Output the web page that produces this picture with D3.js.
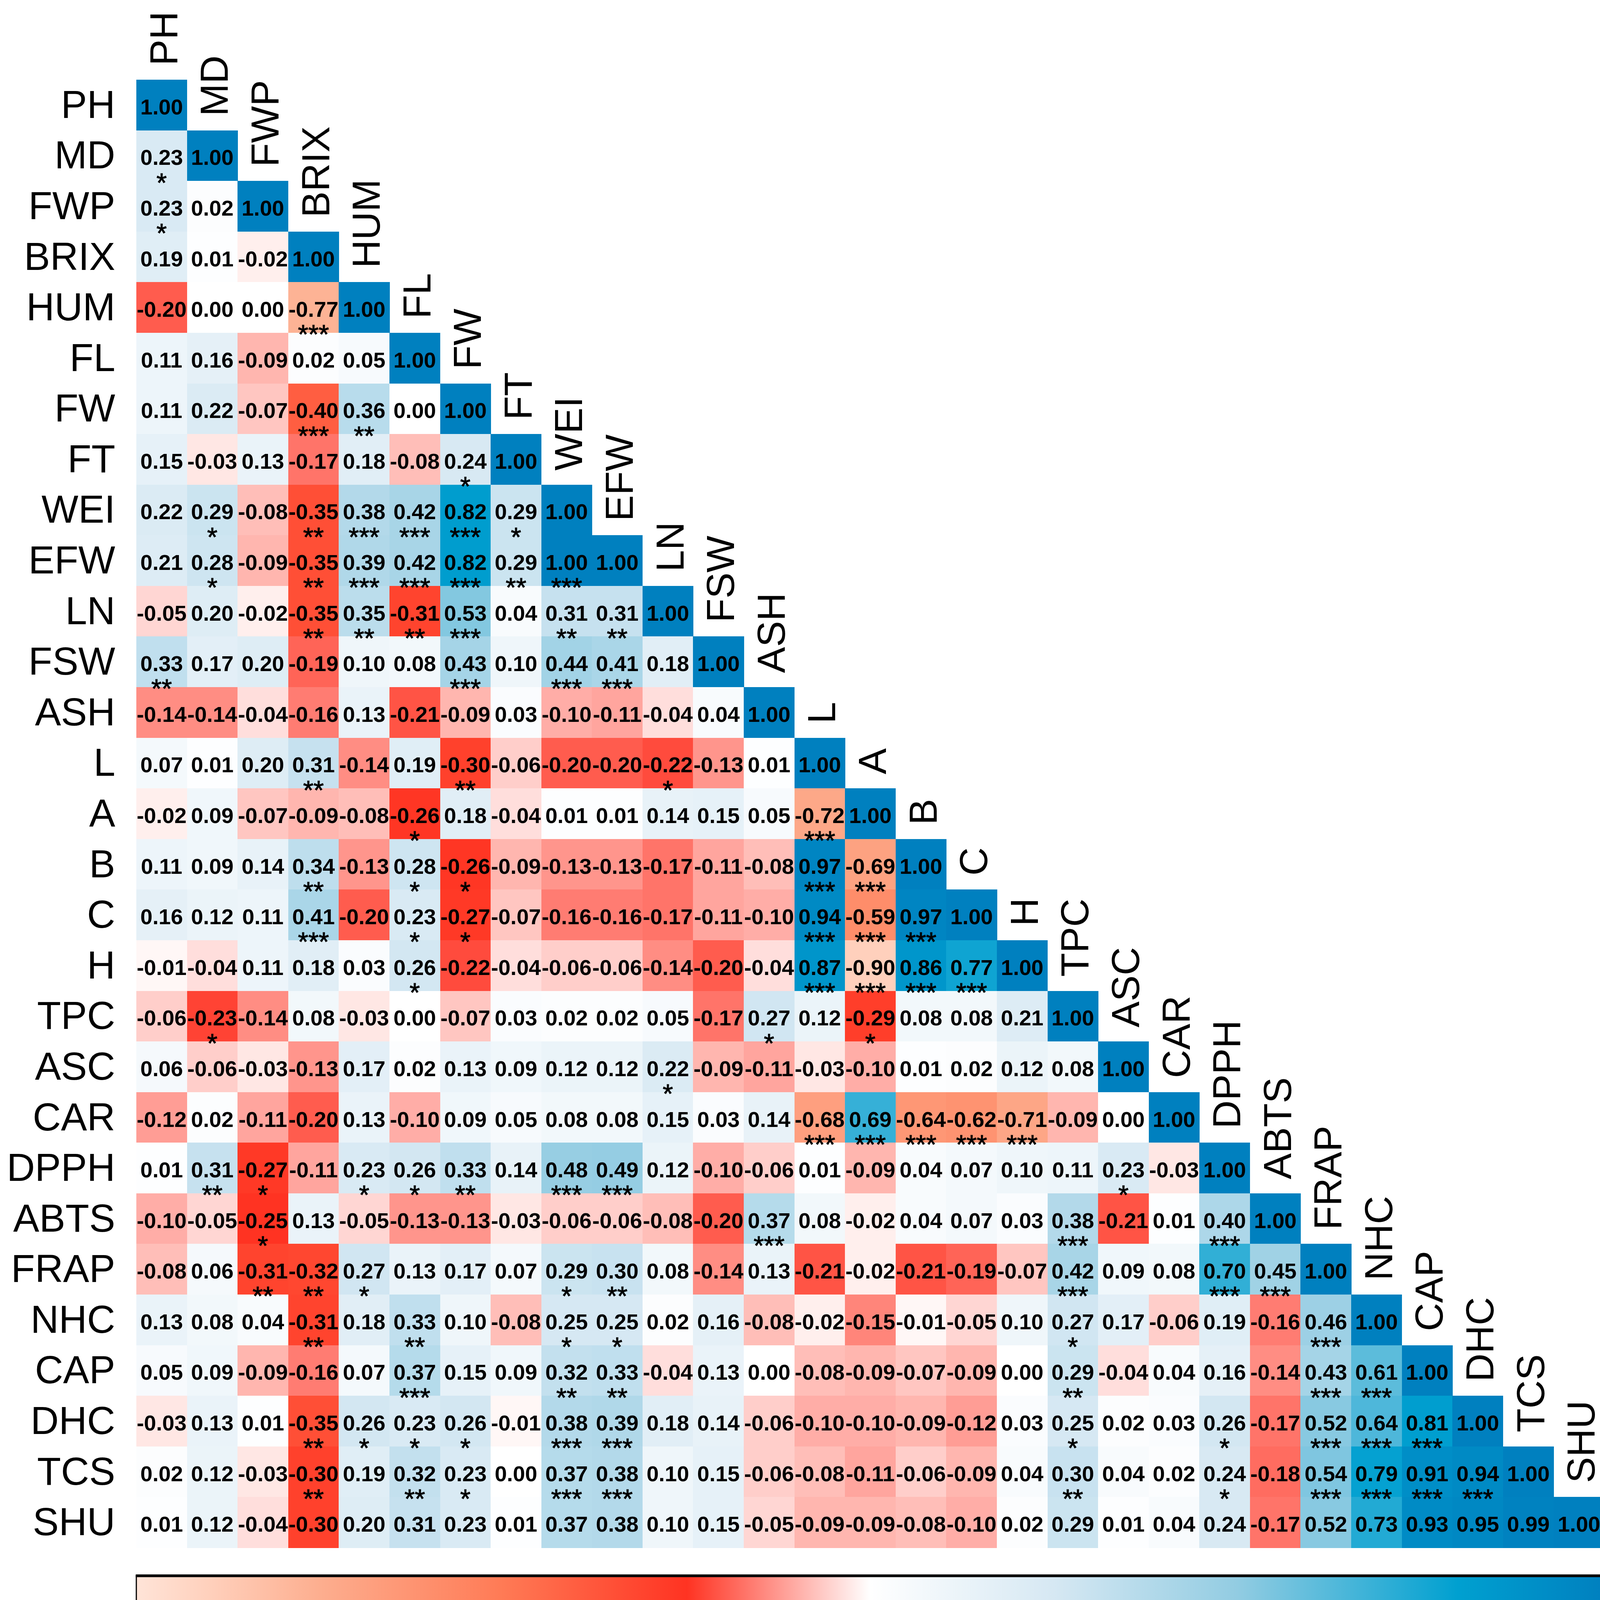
<!DOCTYPE html>
<html>
<head>
<meta charset="utf-8">
<script src="https://cdn.jsdelivr.net/npm/d3@7"></script>
<style>
html, body { margin: 0; padding: 0; background: #ffffff; }
svg { display: block; }
</style>
</head>
<body>
<script>
// ---------- DATA ----------
const variables = ["PH","MD","FWP","BRIX","HUM","FL","FW","FT","WEI","EFW","LN","FSW","ASH","L","A","B","C","H","TPC","ASC","CAR","DPPH","ABTS","FRAP","NHC","CAP","DHC","TCS","SHU"];

// lower-triangle correlation coefficients (row i holds columns 0..i)
const corrRows = [
  [1.00],
  [0.23,1.00],
  [0.23,0.02,1.00],
  [0.19,0.01,-0.02,1.00],
  [-0.20,0.00,0.00,-0.77,1.00],
  [0.11,0.16,-0.09,0.02,0.05,1.00],
  [0.11,0.22,-0.07,-0.40,0.36,0.00,1.00],
  [0.15,-0.03,0.13,-0.17,0.18,-0.08,0.24,1.00],
  [0.22,0.29,-0.08,-0.35,0.38,0.42,0.82,0.29,1.00],
  [0.21,0.28,-0.09,-0.35,0.39,0.42,0.82,0.29,1.00,1.00],
  [-0.05,0.20,-0.02,-0.35,0.35,-0.31,0.53,0.04,0.31,0.31,1.00],
  [0.33,0.17,0.20,-0.19,0.10,0.08,0.43,0.10,0.44,0.41,0.18,1.00],
  [-0.14,-0.14,-0.04,-0.16,0.13,-0.21,-0.09,0.03,-0.10,-0.11,-0.04,0.04,1.00],
  [0.07,0.01,0.20,0.31,-0.14,0.19,-0.30,-0.06,-0.20,-0.20,-0.22,-0.13,0.01,1.00],
  [-0.02,0.09,-0.07,-0.09,-0.08,-0.26,0.18,-0.04,0.01,0.01,0.14,0.15,0.05,-0.72,1.00],
  [0.11,0.09,0.14,0.34,-0.13,0.28,-0.26,-0.09,-0.13,-0.13,-0.17,-0.11,-0.08,0.97,-0.69,1.00],
  [0.16,0.12,0.11,0.41,-0.20,0.23,-0.27,-0.07,-0.16,-0.16,-0.17,-0.11,-0.10,0.94,-0.59,0.97,1.00],
  [-0.01,-0.04,0.11,0.18,0.03,0.26,-0.22,-0.04,-0.06,-0.06,-0.14,-0.20,-0.04,0.87,-0.90,0.86,0.77,1.00],
  [-0.06,-0.23,-0.14,0.08,-0.03,0.00,-0.07,0.03,0.02,0.02,0.05,-0.17,0.27,0.12,-0.29,0.08,0.08,0.21,1.00],
  [0.06,-0.06,-0.03,-0.13,0.17,0.02,0.13,0.09,0.12,0.12,0.22,-0.09,-0.11,-0.03,-0.10,0.01,0.02,0.12,0.08,1.00],
  [-0.12,0.02,-0.11,-0.20,0.13,-0.10,0.09,0.05,0.08,0.08,0.15,0.03,0.14,-0.68,0.69,-0.64,-0.62,-0.71,-0.09,0.00,1.00],
  [0.01,0.31,-0.27,-0.11,0.23,0.26,0.33,0.14,0.48,0.49,0.12,-0.10,-0.06,0.01,-0.09,0.04,0.07,0.10,0.11,0.23,-0.03,1.00],
  [-0.10,-0.05,-0.25,0.13,-0.05,-0.13,-0.13,-0.03,-0.06,-0.06,-0.08,-0.20,0.37,0.08,-0.02,0.04,0.07,0.03,0.38,-0.21,0.01,0.40,1.00],
  [-0.08,0.06,-0.31,-0.32,0.27,0.13,0.17,0.07,0.29,0.30,0.08,-0.14,0.13,-0.21,-0.02,-0.21,-0.19,-0.07,0.42,0.09,0.08,0.70,0.45,1.00],
  [0.13,0.08,0.04,-0.31,0.18,0.33,0.10,-0.08,0.25,0.25,0.02,0.16,-0.08,-0.02,-0.15,-0.01,-0.05,0.10,0.27,0.17,-0.06,0.19,-0.16,0.46,1.00],
  [0.05,0.09,-0.09,-0.16,0.07,0.37,0.15,0.09,0.32,0.33,-0.04,0.13,0.00,-0.08,-0.09,-0.07,-0.09,0.00,0.29,-0.04,0.04,0.16,-0.14,0.43,0.61,1.00],
  [-0.03,0.13,0.01,-0.35,0.26,0.23,0.26,-0.01,0.38,0.39,0.18,0.14,-0.06,-0.10,-0.10,-0.09,-0.12,0.03,0.25,0.02,0.03,0.26,-0.17,0.52,0.64,0.81,1.00],
  [0.02,0.12,-0.03,-0.30,0.19,0.32,0.23,0.00,0.37,0.38,0.10,0.15,-0.06,-0.08,-0.11,-0.06,-0.09,0.04,0.30,0.04,0.02,0.24,-0.18,0.54,0.79,0.91,0.94,1.00],
  [0.01,0.12,-0.04,-0.30,0.20,0.31,0.23,0.01,0.37,0.38,0.10,0.15,-0.05,-0.09,-0.09,-0.08,-0.10,0.02,0.29,0.01,0.04,0.24,-0.17,0.52,0.73,0.93,0.95,0.99,1.00]
];

// number of significance stars per cell (same layout as corrRows)
const sigRows = [
  "0",
  "10",
  "100",
  "0000",
  "00030",
  "000000",
  "0003200",
  "00000010",
  "010233310",
  "0102333230",
  "00022230220",
  "200000303300",
  "0000000000000",
  "00020020001000",
  "000001000000030",
  "0002011000000330",
  "00030110000003330",
  "000001000000033330",
  "0100000000001010000",
  "00000000001000000000",
  "000000000000033333000",
  "0210112033000000000100",
  "00100000000030000030030",
  "002210001200000000300330",
  "0002020011000000001000030",
  "00000300220000000020000330",
  "000211103300000000100103330",
  "0002021033000000002001033330",
  "00000000000000000000000000000"
];

// colour ramp (value -> colour)
const colorDomain = [-1, -0.9, -0.75, -0.5, -0.25, 0, 0.25, 0.5, 0.8, 1];
const colorRange  = ["#FFE4D8", "#FFD0BC", "#FDAE8F", "#FF7A55", "#FF3322", "#FFFFFF", "#D6E8F3", "#92CCE2", "#00A0D0", "#0080BF"];

// colour-bar tick values
const legendTicks = [-1, -0.8, -0.6, -0.4, -0.2, 0, 0.2, 0.4, 0.6, 0.8, 1];

// ---------- DRAW ----------
const W = 4146, H = 4381;
const FONT = "'Liberation Sans', Arial, Helvetica, sans-serif";

const svg = d3.select("body").append("svg")
  .attr("width", W).attr("height", H)
  .attr("viewBox", `0 0 ${W} ${H}`);

const x = d3.scaleBand().domain(variables).range([349, 4107]);
const y = d3.scaleBand().domain(variables).range([204, 3962]);
const bw = x.bandwidth();

const color = d3.scaleLinear()
  .domain(colorDomain).range(colorRange)
  .interpolate(d3.interpolateRgb).clamp(true);

const cells = [];
corrRows.forEach((row, i) => {
  row.forEach((v, j) => {
    const s = +(sigRows[i][j] || 0);
    cells.push({ r: variables[i], c: variables[j], v, s });
  });
});

// cells
svg.append("g").attr("shape-rendering", "crispEdges")
  .selectAll("rect").data(cells).join("rect")
  .attr("x", d => x(d.c))
  .attr("y", d => y(d.r))
  .attr("width", bw + 0.6)
  .attr("height", bw + 0.6)
  .attr("fill", d => color(d.v));

// coefficient numbers
svg.append("g")
  .attr("font-family", FONT).attr("font-weight", "bold").attr("font-size", 56)
  .attr("text-anchor", "middle").attr("fill", "#000")
  .selectAll("text").data(cells).join("text")
  .attr("x", d => x(d.c) + bw / 2)
  .attr("y", d => y(d.r) + bw / 2 + 24)
  .text(d => d.v.toFixed(2));

// significance stars
svg.append("g")
  .attr("font-family", FONT).attr("font-size", 68)
  .attr("text-anchor", "middle").attr("fill", "#000")
  .attr("stroke", "#000").attr("stroke-width", 1.2)
  .selectAll("text").data(cells.filter(d => d.s > 0)).join("text")
  .attr("x", d => x(d.c) + bw / 2)
  .attr("y", d => y(d.r) + 157)
  .text(d => "*".repeat(d.s));

// row labels
svg.append("g")
  .attr("font-family", FONT).attr("font-size", 100)
  .attr("text-anchor", "end").attr("fill", "#000")
  .selectAll("text").data(variables).join("text")
  .attr("x", 295)
  .attr("y", d => y(d) + bw / 2 + 33)
  .text(d => d);

// column labels (rotated, above the diagonal cell)
svg.append("g")
  .attr("font-family", FONT).attr("font-size", 100)
  .attr("text-anchor", "start").attr("fill", "#000")
  .selectAll("text").data(variables).join("text")
  .attr("transform", d => `translate(${x(d) + bw / 2 + 40},${y(d) - 36}) rotate(-90)`)
  .text(d => d);

// ---------- COLOUR BAR ----------
const lx = d3.scaleLinear().domain([-1, 1]).range([349, 4107]);
const barTop = 4034, barBot = 4175;

const defs = svg.append("defs");
const grad = defs.append("linearGradient").attr("id", "cbar")
  .attr("x1", "0%").attr("x2", "100%").attr("y1", "0%").attr("y2", "0%");
grad.selectAll("stop").data(colorDomain).join("stop")
  .attr("offset", d => ((d + 1) / 2 * 100) + "%")
  .attr("stop-color", (d, i) => colorRange[i]);

svg.append("rect")
  .attr("x", lx(-1)).attr("y", barTop)
  .attr("width", lx(1) - lx(-1)).attr("height", barBot - barTop)
  .attr("fill", "url(#cbar)")
  .attr("stroke", "#000").attr("stroke-width", 3);

svg.append("g").attr("stroke", "#000").attr("stroke-width", 7)
  .selectAll("line").data([barTop, barBot]).join("line")
  .attr("x1", lx(-1) - 1.5).attr("x2", lx(1) + 1.5)
  .attr("y1", d => d).attr("y2", d => d);

const axis = d3.axisBottom(lx)
  .tickValues(legendTicks)
  .tickSize(30)
  .tickFormat(d => String(d));

const ag = svg.append("g")
  .attr("transform", `translate(0,${barBot + 3})`)
  .call(axis);
ag.select(".domain").remove();
ag.selectAll(".tick line").attr("stroke", "#000").attr("stroke-width", 4);
ag.selectAll(".tick text")
  .attr("font-family", FONT).attr("font-size", 90).attr("fill", "#000")
  .attr("y", 152).attr("dy", null);
</script>
</body>
</html>
